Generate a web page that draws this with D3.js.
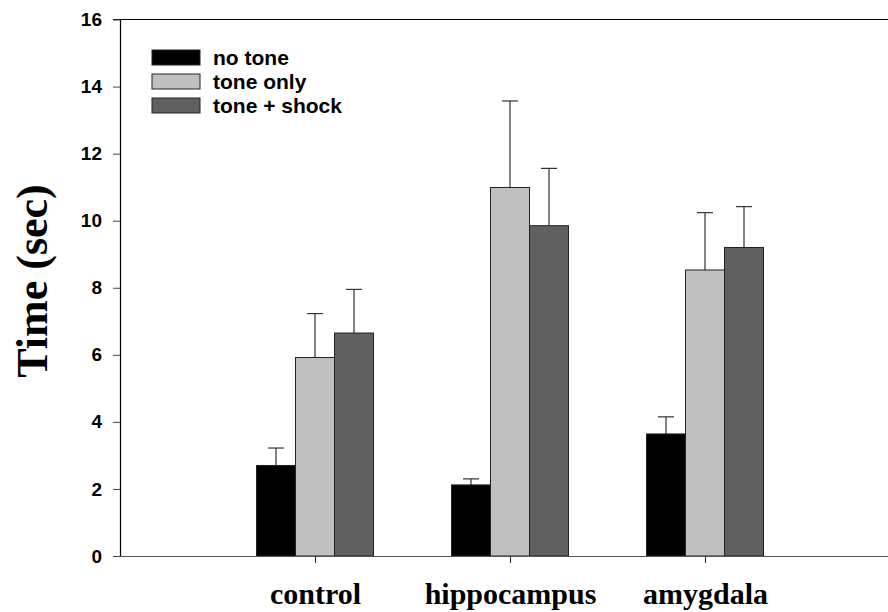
<!DOCTYPE html>
<html><head><meta charset="utf-8">
<script src="https://cdn.jsdelivr.net/npm/d3@7"></script>
<style>body{margin:0;background:#fff}svg{display:block}</style>
</head><body>
<svg id="chart" width="888" height="612"></svg>
<script>
const categories = ["control", "hippocampus", "amygdala"];
const seriesNames = ["no tone", "tone only", "tone + shock"];
const noTone = [2.70, 2.12, 3.64];
const noToneErr = [0.52, 0.18, 0.51];
const toneOnly = [5.92, 10.99, 8.53];
const toneOnlyErr = [1.31, 2.58, 1.71];
const toneShock = [6.65, 9.85, 9.20];
const toneShockErr = [1.30, 1.71, 1.22];
const yTicks = [0, 2, 4, 6, 8, 10, 12, 14, 16];
const colors = ["#000000", "#c0c0c0", "#606060"];

const values = [noTone, toneOnly, toneShock];
const errs = [noToneErr, toneOnlyErr, toneShockErr];

const svg = d3.select("#chart");
const y = d3.scaleLinear().domain([0, 16]).range([556, 19.5]);
const x = d3.scaleLinear().domain([0, 4]).range([120, 900]);
const inner = d3.scaleBand().domain(seriesNames).range([-58.5, 58.5]).padding(0);

// top frame line
svg.append("line").attr("x1", 113).attr("x2", 900).attr("y1", y(16)).attr("y2", y(16))
  .attr("stroke", "#000").attr("stroke-width", 1.2);

// y axis
const yAxis = svg.append("g").attr("transform", "translate(120,0)")
  .call(d3.axisLeft(y).tickValues(yTicks).tickSize(7).tickSizeOuter(0).tickPadding(11).tickFormat(d3.format("d")));
yAxis.select(".domain").attr("stroke", "#000").attr("stroke-width", 1.2);
yAxis.selectAll(".tick line").attr("stroke", "#444");
yAxis.selectAll("text").attr("font-family", "Liberation Sans, Arial, sans-serif")
  .attr("font-weight", "bold").attr("font-size", 19).attr("fill", "#000");

// bars
categories.forEach((c, ci) => {
  seriesNames.forEach((s, si) => {
    const v = values[si][ci];
    const bx = x(ci + 1) + inner(s);
    const cx = bx + inner.bandwidth() / 2;
    const e = errs[si][ci];
    svg.append("line").attr("x1", cx).attr("x2", cx).attr("y1", y(v)).attr("y2", y(v + e))
      .attr("stroke", "#333").attr("stroke-width", 1.2);
    svg.append("line").attr("x1", cx - 8).attr("x2", cx + 8).attr("y1", y(v + e)).attr("y2", y(v + e))
      .attr("stroke", "#333").attr("stroke-width", 1.2);
    svg.append("rect").attr("x", bx).attr("y", y(v)).attr("width", inner.bandwidth())
      .attr("height", y(0) - y(v)).attr("fill", colors[si]).attr("stroke", "#222").attr("stroke-width", 1);
  });
});

// x axis
const xAxis = svg.append("g").attr("transform", "translate(0,556)")
  .call(d3.axisBottom(x).tickValues([1, 2, 3]).tickSize(7).tickSizeOuter(0)
    .tickFormat(d => categories[d - 1]));
xAxis.select(".domain").attr("stroke", "#555").attr("stroke-width", 1.2);
xAxis.selectAll(".tick line").attr("stroke", "#222");
xAxis.selectAll("text").attr("y", 48).attr("dy", 0)
  .attr("font-family", "Liberation Serif, Times New Roman, serif")
  .attr("font-weight", "bold").attr("font-size", 30).attr("fill", "#000");

// y title
svg.append("text").attr("transform", "translate(47,281) rotate(-90)")
  .attr("text-anchor", "middle").attr("font-family", "Liberation Serif, Times New Roman, serif")
  .attr("font-weight", "bold").attr("font-size", 44).text("Time (sec)");

// legend
const lg = svg.append("g");
seriesNames.forEach((s, i) => {
  const ly = 50 + i * 24;
  lg.append("rect").attr("x", 152).attr("y", ly).attr("width", 48).attr("height", 15)
    .attr("fill", colors[i]).attr("stroke", "#222").attr("stroke-width", 1);
  lg.append("text").attr("x", 213).attr("y", ly + 15).attr("font-family", "Liberation Sans, Arial, sans-serif")
    .attr("font-weight", "bold").attr("font-size", 21).text(s);
});
</script>
</body></html>
